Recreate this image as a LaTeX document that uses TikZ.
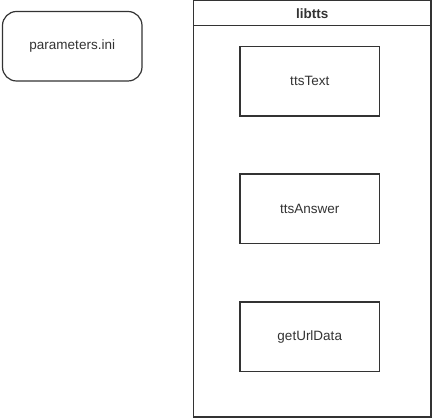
\documentclass[tikz,border=0pt]{standalone}
\usepackage{fontspec}
\setmainfont{Liberation Sans}
\begin{document}
\begin{tikzpicture}[x=1pt,y=-1pt,
  box/.style={draw=black!80,line width=1.2pt,fill=white},
  lbl/.style={font=\fontsize{13.5}{16}\selectfont,text=black!80}]
\useasboundingbox (0,0) rectangle (433,419);
% configuration file
\draw[box,rounded corners=14pt] (2.5,11.5) rectangle (142,81);
\node[lbl] (params) at (72.25,46.25) {parameters.ini};
% library container with its title bar
\draw[box] (193.5,0.8) rectangle (431,417);
\draw[draw=black!80,line width=1.2pt] (193.5,25.5) -- (431,25.5);
\node[lbl,font=\fontsize{13.5}{16}\selectfont\bfseries] (libtts) at (312.25,13.5) {libtts};
% functions of the library
\draw[box] (240,46.5) rectangle (379.5,116);
\node[lbl] (ttsText) at (309.75,81.25) {ttsText};
\draw[box] (240,174) rectangle (379.5,243.5);
\node[lbl] (ttsAnswer) at (309.75,208.75) {ttsAnswer};
\draw[box] (240,302) rectangle (379.5,371.5);
\node[lbl] (getUrlData) at (309.75,336.75) {getUrlData};
\end{tikzpicture}
\end{document}
